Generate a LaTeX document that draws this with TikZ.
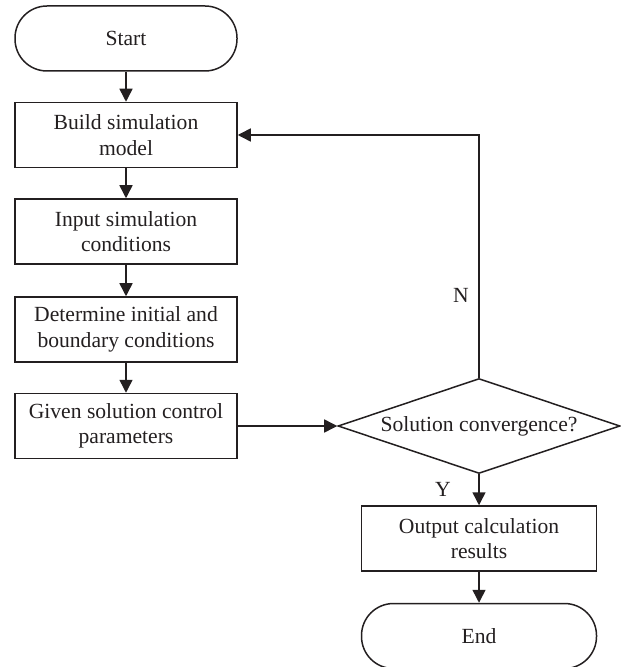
\documentclass[tikz,border=0pt]{standalone}
\usepackage{fontspec}
\setmainfont{Liberation Serif}
\usetikzlibrary{shapes.geometric,arrows.meta}
\definecolor{ink}{RGB}{35,31,32}
\begin{document}
\begin{tikzpicture}[x=0.5pt,y=-0.5pt,
  every node/.style={text=ink},
  box/.style={draw=ink, line width=0.75pt, minimum width=111pt, minimum height=32.5pt,
    align=center, font=\fontsize{10.8}{12.8}\selectfont, inner sep=0pt},
  widebox/.style={box, minimum width=117.5pt},
  term/.style={box, rounded corners=16pt},
  dec/.style={draw=ink, line width=0.75pt, diamond, shape aspect=3, minimum width=141pt,
    minimum height=47.5pt, inner sep=0pt, font=\fontsize{10.8}{12.8}\selectfont},
  arr/.style={draw=ink, line width=0.75pt, -{Triangle[length=6.5pt,width=6.5pt]}},
  lab/.style={font=\fontsize{10.8}{12.8}\selectfont, inner sep=0pt}
]
\useasboundingbox (0,0) rectangle (620,667);
\node[term] (start) at (126,38.5) {Start};
\node[box] (build) at (126,135) {Build simulation\\model};
\node[box] (input) at (126,231.5) {Input simulation\\conditions};
\node[box] (determine) at (126,329.5) {Determine initial and\\boundary conditions};
\node[box] (given) at (126,426) {Given solution control\\parameters};
\node[dec] (conv) at (479,426) {Solution convergence?};
\node[widebox] (output) at (479,538.5) {Output calculation\\results};
\node[term, widebox, rounded corners=16pt] (end) at (479,636) {End};
\node[lab] (n) at (461,295) {N};
\node[lab] (y) at (443,489) {Y};
\draw[arr] (start) -- (build);
\draw[arr] (build) -- (input);
\draw[arr] (input) -- (determine);
\draw[arr] (determine) -- (given);
\draw[arr] (given) -- (conv);
\draw[arr] (conv) -- (output);
\draw[arr] (output) -- (end);
\draw[arr] (conv.north) -- (conv.north |- build.east) -- (build.east);
\end{tikzpicture}
\end{document}
